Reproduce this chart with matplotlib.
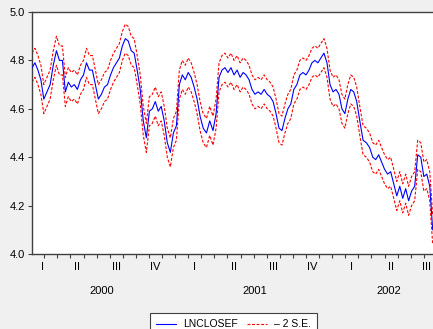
import matplotlib
matplotlib.use('Agg')
import matplotlib.pyplot as plt
import pandas as pd
import numpy as np

plt.rcParams['font.family'] = ['Liberation Sans', 'DejaVu Sans']

# Weekly readings of the forecast series (log close), starting 2000-01-03
dates = pd.date_range('2000-01-03', periods=134, freq='7D')
lnclosef = [
    4.77, 4.79, 4.76, 4.72, 4.64, 4.67, 4.70, 4.78, 4.84, 4.80,
    4.80, 4.67, 4.71, 4.69, 4.70, 4.68, 4.72, 4.74, 4.79, 4.76,
    4.76, 4.70, 4.64, 4.66, 4.69, 4.70, 4.74, 4.77, 4.79, 4.81,
    4.86, 4.89, 4.88, 4.84, 4.83, 4.76, 4.68, 4.55, 4.48, 4.59,
    4.60, 4.63, 4.59, 4.61, 4.55, 4.46, 4.42, 4.50, 4.53, 4.70,
    4.74, 4.72, 4.75, 4.73, 4.69, 4.64, 4.57, 4.52, 4.50, 4.55,
    4.51, 4.58, 4.73, 4.76, 4.77, 4.75, 4.77, 4.74, 4.76, 4.73,
    4.75, 4.74, 4.72, 4.68, 4.66, 4.67, 4.66, 4.68, 4.66, 4.65,
    4.63, 4.58, 4.52, 4.51, 4.56, 4.60, 4.62, 4.68, 4.70, 4.74,
    4.75, 4.74, 4.76, 4.79, 4.80, 4.79, 4.81, 4.83, 4.79, 4.70,
    4.67, 4.68, 4.66, 4.60, 4.58, 4.64, 4.68, 4.67, 4.63, 4.55,
    4.47, 4.46, 4.44, 4.40, 4.39, 4.41, 4.38, 4.35, 4.33, 4.34,
    4.29, 4.24, 4.28, 4.23, 4.27, 4.22, 4.26, 4.28, 4.41, 4.40,
    4.32, 4.33, 4.28, 4.10,
]
two_se = 0.06  # width of the +/- 2 S.E. band

quarter_labels = ['I', 'II', 'III', 'IV', 'I', 'II', 'III', 'IV', 'I', 'II', 'III']
quarter_pos = [0.85, 3.5, 6.5, 9.5, 12.5, 15.5, 18.5, 21.5, 24.5, 27.5, 30.2]
year_labels = ['2000', '2001', '2002']
year_pos = [5.4, 17.1, 27.35]
yticks = [4.0, 4.2, 4.4, 4.6, 4.8, 5.0]


def month_coord(d):
    return (d.year - 2000) * 12 + (d.month - 1) + (d.day - 1) / d.days_in_month


x = np.array([month_coord(d) for d in dates])
f = np.array(lnclosef)
upper = f + two_se
lower = f - two_se

W, H = 433, 329
fig = plt.figure(figsize=(W / 100, H / 100), dpi=100, facecolor='#f0f0f0')
ax = fig.add_axes([32 / W, 1 - 254 / H, 1 - 32 / W, 242 / H])
ax.set_facecolor('white')

ax.plot(x, f, color='#0000ff', lw=0.8, label='LNCLOSEF', zorder=3)
ax.plot(x, upper, color='#ff0000', lw=0.8, ls=(0, (2.6, 1.5)), label='\u2013 2 S.E.', zorder=2)
ax.plot(x, lower, color='#ff0000', lw=0.8, ls=(0, (2.6, 1.5)), zorder=2)

ax.set_xlim(x[0], 30.7)
ax.set_ylim(4.0, 5.0)
ax.set_yticks(yticks)
ax.set_yticklabels([f'{v:.1f}' for v in yticks], fontsize=8)
ax.set_xticks(np.arange(1, 31))
ax.set_xticklabels([])
ax.tick_params(axis='both', direction='out', length=3, width=0.8, color='#404040', pad=2)

for s in ['left', 'bottom', 'top']:
    ax.spines[s].set_color('#404040')
    ax.spines[s].set_linewidth(1.0)
ax.spines['right'].set_visible(False)

tr = ax.get_xaxis_transform()
for lab, p in zip(quarter_labels, quarter_pos):
    ax.text(p, -0.054, lab, transform=tr, ha='center', va='center', fontsize=8)
for lab, p in zip(year_labels, year_pos):
    ax.text(p, -0.153, lab, transform=tr, ha='center', va='center', fontsize=8)

handles, labels = ax.get_legend_handles_labels()
leg = fig.legend(handles, labels, loc='upper center', bbox_to_anchor=(233.5 / W, 1 - 313 / H),
                 bbox_transform=fig.transFigure, ncol=2, fontsize=7.5, frameon=True,
                 fancybox=False, edgecolor='#404040', facecolor='white', framealpha=1,
                 handlelength=1.9, handletextpad=0.7, columnspacing=0.9, borderpad=0.6,
                 borderaxespad=0)
leg.get_frame().set_linewidth(0.8)

fig.savefig('out.png', dpi=100, facecolor=fig.get_facecolor())
